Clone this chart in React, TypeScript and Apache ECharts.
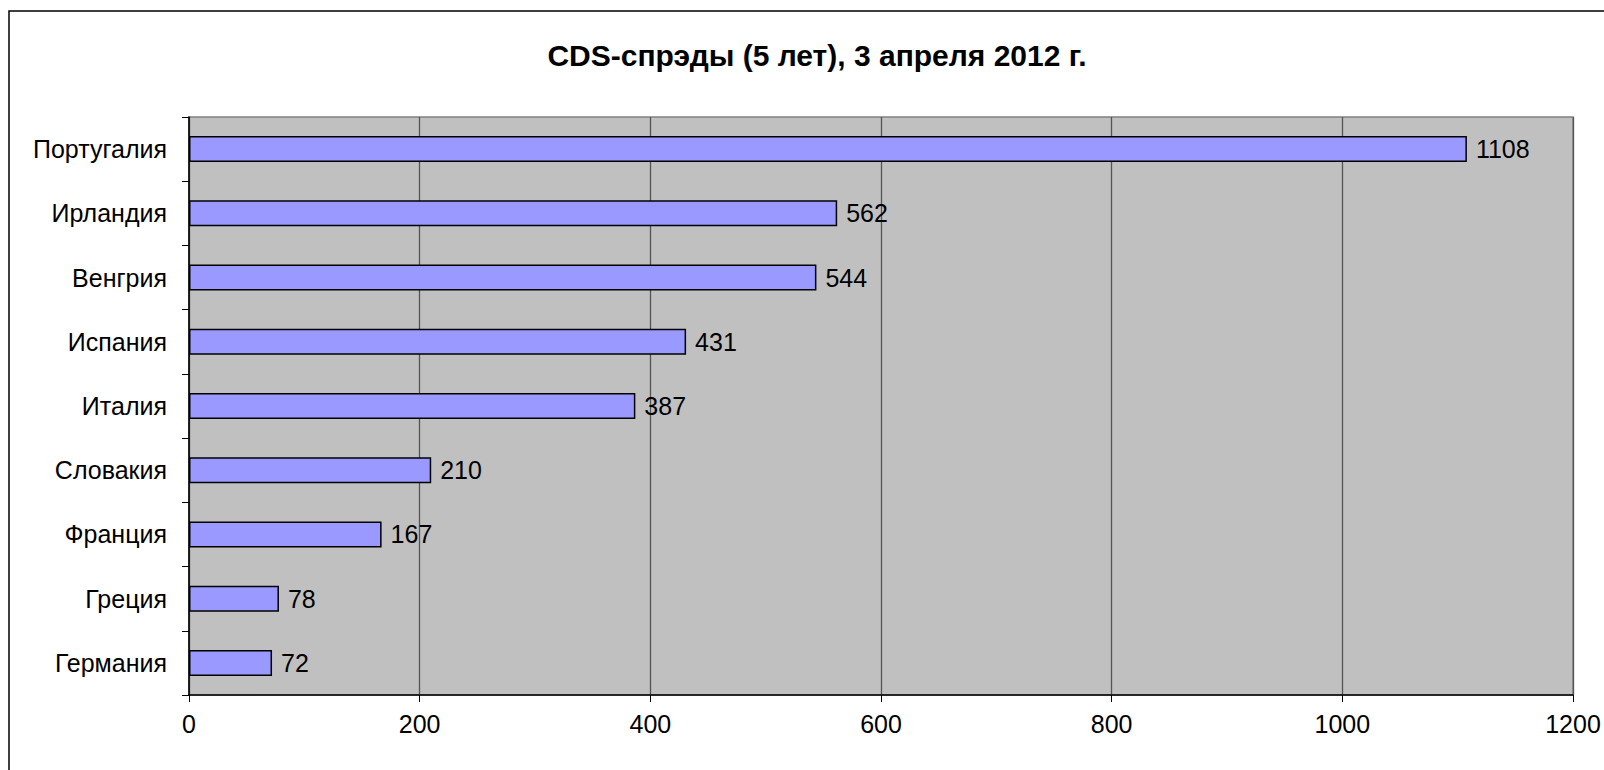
import React, { useEffect, useRef } from "react";
import * as echarts from "echarts";

const categories = ["Португалия", "Ирландия", "Венгрия", "Испания", "Италия", "Словакия", "Франция", "Греция", "Германия"];
const values = [1108, 562, 544, 431, 387, 210, 167, 78, 72];
const titleText = "CDS-спрэды (5 лет), 3 апреля 2012 г.";

const FONT = "'Liberation Sans', Arial, sans-serif";

export default function App() {
  const ref = useRef<HTMLDivElement>(null);
  useEffect(() => {
    document.body.style.margin = "0";
    document.body.style.overflow = "hidden";
    const chart = echarts.init(ref.current!, null, { renderer: "svg" });
    chart.setOption({
      animation: false,
      backgroundColor: "#ffffff",
      textStyle: { fontFamily: FONT },
      graphic: [
        {
          type: "rect",
          shape: { x: 9, y: 11, width: 1700, height: 900 },
          style: { fill: "none", stroke: "#000", lineWidth: 1.5 },
          z: 0,
        },
        {
          type: "text",
          x: 817,
          y: 55,
          style: {
            text: titleText,
            fontFamily: FONT,
            fontSize: 30,
            fontWeight: "bold",
            fill: "#000",
            align: "center",
            verticalAlign: "middle",
          },
        },
      ],
      grid: {
        left: 189,
        top: 117,
        width: 1384,
        height: 578,
        show: true,
        backgroundColor: "#c0c0c0",
        borderColor: "#808080",
        borderWidth: 1.5,
      },
      xAxis: {
        type: "value",
        min: 0,
        max: 1200,
        interval: 200,
        axisLine: { show: true, lineStyle: { color: "#000", width: 1.5 } },
        axisTick: { show: true, length: 7, lineStyle: { color: "#000" } },
        splitLine: { show: true, lineStyle: { color: "#555", width: 1.3 } },
        axisLabel: {
          color: "#000",
          fontSize: 25,
          fontFamily: FONT,
          margin: 16,
          formatter: (v: number) => String(v),
        },
      },
      yAxis: {
        type: "category",
        data: categories,
        inverse: true,
        axisLine: { show: true, lineStyle: { color: "#000", width: 1.5 } },
        axisTick: { show: true, length: 7, lineStyle: { color: "#000" } },
        axisLabel: { color: "#000", fontSize: 25, fontFamily: FONT, margin: 22 },
      },
      series: [
        {
          type: "bar",
          data: values,
          barWidth: 26,
          itemStyle: { color: "#9999ff", borderColor: "#000", borderWidth: 1.5 },
          label: {
            show: true,
            position: "right",
            distance: 9,
            color: "#000",
            fontSize: 25,
            fontFamily: FONT,
          },
        },
      ],
    });
    return () => chart.dispose();
  }, []);
  return <div ref={ref} style={{ width: 1604, height: 770 }} />;
}
